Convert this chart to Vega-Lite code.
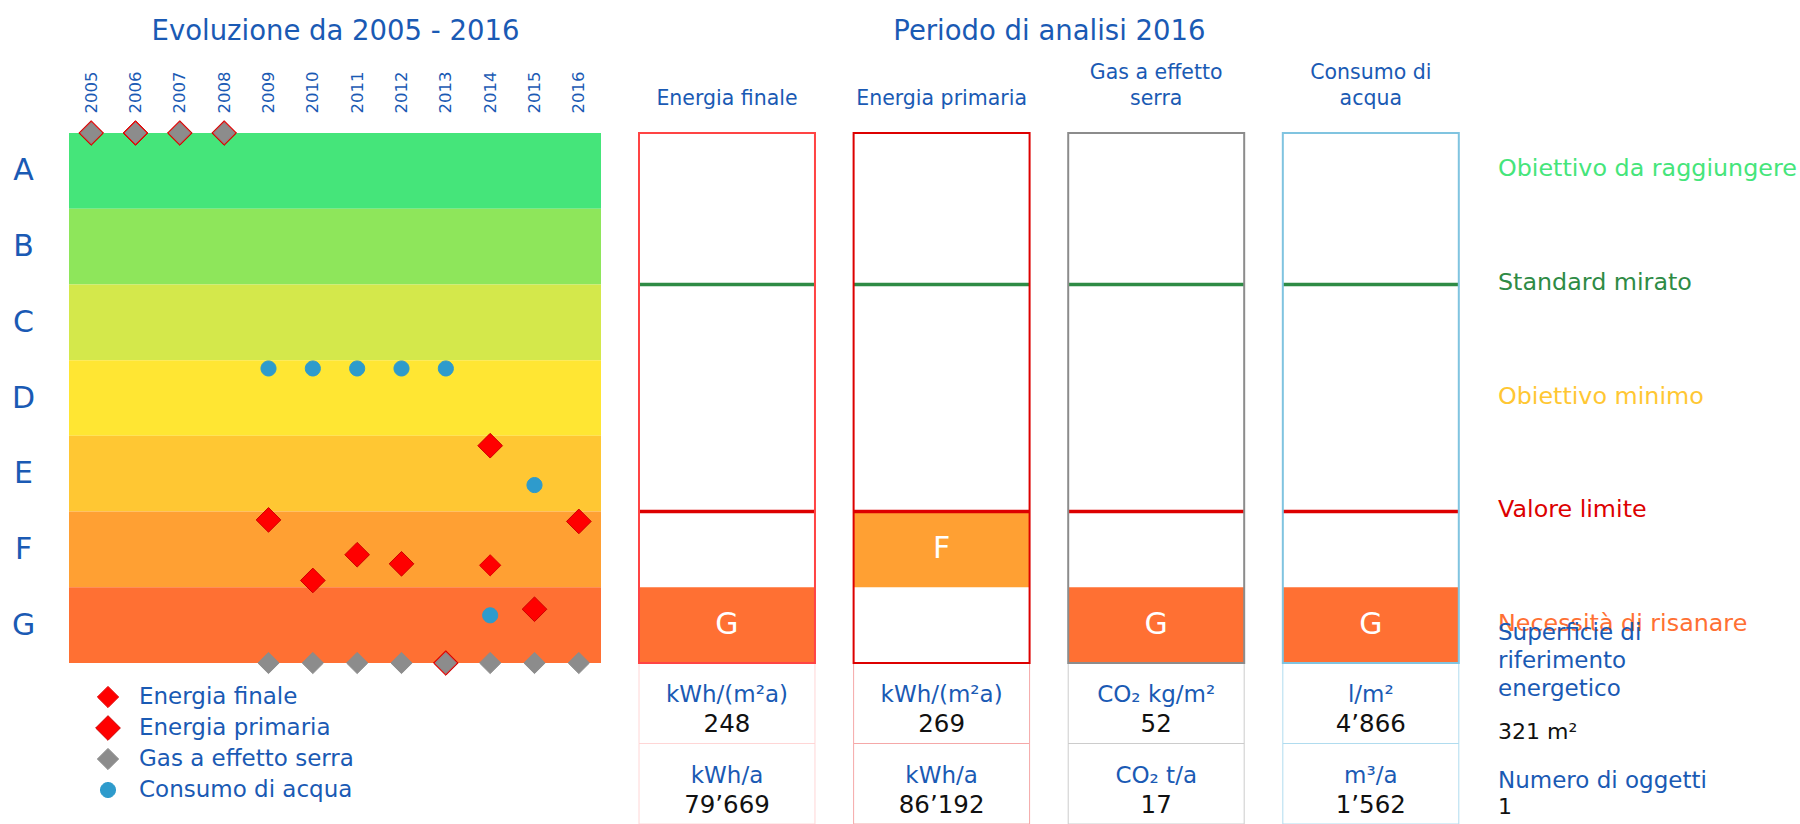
{
  "$schema": "https://vega.github.io/schema/vega-lite/v6.json",
  "width": 1731,
  "height": 691,
  "autosize": {"type": "none"},
  "padding": {"left": 69, "top": 133, "right": 0, "bottom": 0},
  "background": "white",
  "config": {
    "view": {"stroke": null},
    "locale": {"number": {"decimal": ".", "thousands": "’", "grouping": [3], "currency": ["", ""]}},
    "axis": {"grid": false, "domain": false, "ticks": false, "tickSize": 0},
    "legend": {
      "orient": "none", "legendX": 26, "legendY": 551, "title": null, "direction": "vertical",
      "labelFont": "DejaVu Sans", "labelFontSize": 23, "labelColor": "#1a5ab4", "labelOffset": 18,
      "rowPadding": 1, "gridAlign": "all", "padding": 0, "symbolStrokeWidth": 1, "labelLimit": 0,
      "symbolSize": 610
    }
  },
  "datasets": {
    "classi": [
      {"classe": "A", "da": 6, "a": 7},
      {"classe": "B", "da": 5, "a": 6},
      {"classe": "C", "da": 4, "a": 5},
      {"classe": "D", "da": 3, "a": 4},
      {"classe": "E", "da": 2, "a": 3},
      {"classe": "F", "da": 1, "a": 2},
      {"classe": "G", "da": 0, "a": 1}
    ],
    "andamento": [
      {"serie": "Energia primaria", "anno": 2005, "valore": 7},
      {"serie": "Energia primaria", "anno": 2006, "valore": 7},
      {"serie": "Energia primaria", "anno": 2007, "valore": 7},
      {"serie": "Energia primaria", "anno": 2008, "valore": 7},
      {"serie": "Energia primaria", "anno": 2009, "valore": 1.89},
      {"serie": "Energia primaria", "anno": 2010, "valore": 1.09},
      {"serie": "Energia primaria", "anno": 2011, "valore": 1.43},
      {"serie": "Energia primaria", "anno": 2012, "valore": 1.31},
      {"serie": "Energia primaria", "anno": 2013, "valore": 0},
      {"serie": "Energia primaria", "anno": 2014, "valore": 2.87},
      {"serie": "Energia primaria", "anno": 2015, "valore": 0.71},
      {"serie": "Energia primaria", "anno": 2016, "valore": 1.87},
      {"serie": "Energia finale", "anno": 2014, "valore": 1.29},
      {"serie": "Gas a effetto serra", "anno": 2005, "valore": 7},
      {"serie": "Gas a effetto serra", "anno": 2006, "valore": 7},
      {"serie": "Gas a effetto serra", "anno": 2007, "valore": 7},
      {"serie": "Gas a effetto serra", "anno": 2008, "valore": 7},
      {"serie": "Gas a effetto serra", "anno": 2009, "valore": 0},
      {"serie": "Gas a effetto serra", "anno": 2010, "valore": 0},
      {"serie": "Gas a effetto serra", "anno": 2011, "valore": 0},
      {"serie": "Gas a effetto serra", "anno": 2012, "valore": 0},
      {"serie": "Gas a effetto serra", "anno": 2013, "valore": 0},
      {"serie": "Gas a effetto serra", "anno": 2014, "valore": 0},
      {"serie": "Gas a effetto serra", "anno": 2015, "valore": 0},
      {"serie": "Gas a effetto serra", "anno": 2016, "valore": 0},
      {"serie": "Consumo di acqua", "anno": 2009, "valore": 3.89},
      {"serie": "Consumo di acqua", "anno": 2010, "valore": 3.89},
      {"serie": "Consumo di acqua", "anno": 2011, "valore": 3.89},
      {"serie": "Consumo di acqua", "anno": 2012, "valore": 3.89},
      {"serie": "Consumo di acqua", "anno": 2013, "valore": 3.89},
      {"serie": "Consumo di acqua", "anno": 2014, "valore": 0.63},
      {"serie": "Consumo di acqua", "anno": 2015, "valore": 2.35}
    ],
    "valutazione": [
      {"indicatore": "Energia finale", "classe": "G", "da": 0, "a": 1},
      {"indicatore": "Energia primaria", "classe": "F", "da": 1, "a": 2},
      {"indicatore": "Gas a effetto serra", "classe": "G", "da": 0, "a": 1},
      {"indicatore": "Consumo di acqua", "classe": "G", "da": 0, "a": 1}
    ],
    "tabella": [
      {"indicatore": "Energia finale", "riga": "specifico", "unita": "kWh/(m²a)", "valore": 248},
      {"indicatore": "Energia finale", "riga": "totale", "unita": "kWh/a", "valore": 79669},
      {"indicatore": "Energia primaria", "riga": "specifico", "unita": "kWh/(m²a)", "valore": 269},
      {"indicatore": "Energia primaria", "riga": "totale", "unita": "kWh/a", "valore": 86192},
      {"indicatore": "Gas a effetto serra", "riga": "specifico", "unita": "CO₂ kg/m²", "valore": 52},
      {"indicatore": "Gas a effetto serra", "riga": "totale", "unita": "CO₂ t/a", "valore": 17},
      {"indicatore": "Consumo di acqua", "riga": "specifico", "unita": "l/m²", "valore": 4866},
      {"indicatore": "Consumo di acqua", "riga": "totale", "unita": "m³/a", "valore": 1562}
    ],
    "soglie": [
      {"testo": "Obiettivo da raggiungere", "livello": 6.5},
      {"testo": "Standard mirato", "livello": 5},
      {"testo": "Obiettivo minimo", "livello": 3.5},
      {"testo": "Valore limite", "livello": 2},
      {"testo": "Necessità di risanare", "livello": 0.5}
    ],
    "edificio": [
      {"riga": "specifico", "titolo": "Superficie di\nriferimento\nenergetico", "valore": "321 m²"},
      {"riga": "totale", "titolo": "Numero di oggetti", "valore": "1"}
    ]
  },
  "layer": [
    {
      "layer": [
        {
          "data": {"name": "classi"},
          "mark": {"type": "rect"},
          "encoding": {
            "x": {
              "datum": 2004.5, "type": "quantitative",
              "scale": {"domain": [2004.5, 2016.5], "range": [0, 532], "nice": false, "zero": false},
              "axis": {
                "orient": "top", "title": "Evoluzione da 2005 - 2016",
                "values": [2005, 2006, 2007, 2008, 2009, 2010, 2011, 2012, 2013, 2014, 2015, 2016],
                "format": "d", "labelAngle": -90, "labelAlign": "left", "labelBaseline": "middle",
                "labelPadding": 20, "labelFont": "DejaVu Sans", "labelFontSize": 16.5, "labelColor": "#1a5ab4",
                "labelFlush": false, "labelOverlap": false, "labelBound": false,
                "titleFont": "DejaVu Sans", "titleFontSize": 27.5, "titleFontWeight": "normal", "titleColor": "#1a5ab4",
                "titlePadding": 25.5, "domain": false, "ticks": false, "tickSize": 0
              }
            },
            "x2": {"datum": 2016.5},
            "y": {
              "field": "da", "type": "quantitative",
              "scale": {"domain": [0, 7], "range": [530, 0], "nice": false, "zero": false},
              "axis": {
                "orient": "left", "title": null,
                "values": [0.5, 1.5, 2.5, 3.5, 4.5, 5.5, 6.5],
                "labelExpr": "['G','F','E','D','C','B','A'][floor(datum.value)]",
                "labelAlign": "center", "labelBaseline": "middle", "labelPadding": 46,
                "labelFont": "DejaVu Sans", "labelFontSize": 30, "labelColor": "#1a5ab4",
                "domain": false, "ticks": false, "tickSize": 0
              }
            },
            "y2": {"field": "a"},
            "fill": {
              "field": "classe", "type": "nominal",
              "scale": {"domain": ["A", "B", "C", "D", "E", "F", "G"], "range": ["#45e57a", "#8ee65b", "#d4e84b", "#ffe633", "#ffc733", "#ffa033", "#ff7033"]},
              "legend": null
            }
          }
        },
        {
          "data": {"name": "andamento"},
          "mark": {"type": "point", "filled": true, "opacity": 1, "strokeWidth": 1, "size": 610},
          "encoding": {
            "x": {"field": "anno", "type": "quantitative"},
            "y": {"field": "valore", "type": "quantitative"},
            "color": {
              "field": "serie", "type": "nominal",
              "scale": {"domain": ["Energia finale", "Energia primaria", "Gas a effetto serra", "Consumo di acqua"], "range": ["#ff0000", "#ff0000", "#8c8c8c", "#2e9bcc"]}
            },
            "shape": {
              "field": "serie", "type": "nominal",
              "scale": {
                "domain": ["Energia finale", "Energia primaria", "Gas a effetto serra", "Consumo di acqua"],
                "range": [
                  "M-0.86,0L0,-0.86L0.86,0L0,0.86Z",
                  "diamond",
                  "M-0.86,0L0,-0.86L0.86,0L0,0.86Z",
                  "M0.61,0A0.61,0.61,0,1,1,-0.61,0A0.61,0.61,0,1,1,0.61,0Z"
                ]
              }
            },
            "stroke": {
              "field": "serie", "type": "nominal",
              "scale": {"domain": ["Energia finale", "Energia primaria", "Gas a effetto serra", "Consumo di acqua"], "range": ["#e00000", "#cc0000", "#8c8c8c", "#2e9bcc"]}
            }
          }
        }
      ]
    },
    {
      "data": {"name": "tabella"},
      "encoding": {
        "x": {
          "field": "indicatore", "type": "nominal",
          "scale": {"domain": ["Energia finale", "Energia primaria", "Gas a effetto serra", "Consumo di acqua"], "range": [570, 1389.8], "paddingInner": 0.18, "paddingOuter": 0},
          "axis": null
        },
        "y": {
          "field": "riga", "type": "nominal",
          "scale": {"domain": ["specifico", "totale"], "range": [530, 691], "paddingInner": 0, "paddingOuter": 0},
          "axis": null
        }
      },
      "layer": [
        {
          "mark": {"type": "rect", "filled": false, "strokeWidth": 1},
          "encoding": {
            "stroke": {
              "field": "indicatore", "type": "nominal",
              "scale": {"domain": ["Energia finale", "Energia primaria", "Gas a effetto serra", "Consumo di acqua"], "range": ["#ffd6d6", "#f5a8a8", "#cccccc", "#b0dcef"]},
              "legend": null
            }
          }
        },
        {
          "mark": {"type": "text", "font": "DejaVu Sans", "fontSize": 23, "fill": "#1a5ab4", "baseline": "middle", "dy": -8},
          "encoding": {"text": {"field": "unita"}}
        },
        {
          "mark": {"type": "text", "font": "DejaVu Sans", "fontSize": 24.5, "fill": "#111111", "baseline": "middle", "dy": 22},
          "encoding": {"text": {"field": "valore", "type": "quantitative", "format": ","}}
        }
      ]
    },
    {
      "data": {"name": "valutazione"},
      "layer": [
        {
          "mark": {"type": "rect"},
          "encoding": {
            "x": {
              "field": "indicatore", "type": "nominal",
              "scale": {"domain": ["Energia finale", "Energia primaria", "Gas a effetto serra", "Consumo di acqua"], "range": [570, 1389.8], "paddingInner": 0.18, "paddingOuter": 0},
              "axis": {
                "orient": "top", "title": "Periodo di analisi 2016",
                "labelExpr": "datum.value == 'Gas a effetto serra' ? ['Gas a effetto', 'serra'] : datum.value == 'Consumo di acqua' ? ['Consumo di', 'acqua'] : ['', datum.value]",
                "labelAngle": 0, "labelAlign": "center", "labelBaseline": "bottom",
                "labelFont": "DejaVu Sans", "labelFontSize": 20.5, "labelColor": "#1a5ab4", "labelPadding": 51, "labelLineHeight": 26.4,
                "titleFont": "DejaVu Sans", "titleFontSize": 27.5, "titleFontWeight": "normal", "titleColor": "#1a5ab4", "titlePadding": 17,
                "domain": false, "ticks": false, "tickSize": 0
              }
            },
            "y": {
              "field": "da", "type": "quantitative",
              "scale": {"domain": [0, 7], "range": [530, 0], "nice": false, "zero": false},
              "axis": null
            },
            "y2": {"field": "a"},
            "fill": {
              "field": "classe", "type": "nominal",
              "scale": {"domain": ["A", "B", "C", "D", "E", "F", "G"], "range": ["#45e57a", "#8ee65b", "#d4e84b", "#ffe633", "#ffc733", "#ffa033", "#ff7033"]},
              "legend": null
            }
          }
        },
        {
          "mark": {"type": "text", "font": "DejaVu Sans", "fontSize": 30, "fill": "white", "baseline": "middle", "dy": -38},
          "encoding": {
            "x": {"field": "indicatore", "type": "nominal"},
            "y": {"field": "da", "type": "quantitative"},
            "text": {"field": "classe"}
          }
        },
        {
          "mark": {"type": "rect", "filled": false, "stroke": "#2e8b45", "strokeWidth": 3.5},
          "encoding": {
            "x": {"field": "indicatore", "type": "nominal"},
            "y": {"datum": 5, "type": "quantitative"},
            "y2": {"datum": 5}
          }
        },
        {
          "mark": {"type": "rect", "filled": false, "stroke": "#dd0000", "strokeWidth": 3.5},
          "encoding": {
            "x": {"field": "indicatore", "type": "nominal"},
            "y": {"datum": 2, "type": "quantitative"},
            "y2": {"datum": 2}
          }
        },
        {
          "mark": {"type": "rect", "filled": false, "strokeWidth": 2},
          "encoding": {
            "x": {"field": "indicatore", "type": "nominal"},
            "y": {"datum": 0, "type": "quantitative"},
            "y2": {"datum": 7},
            "stroke": {
              "field": "indicatore", "type": "nominal",
              "scale": {"domain": ["Energia finale", "Energia primaria", "Gas a effetto serra", "Consumo di acqua"], "range": ["#ff4444", "#dd0000", "#8c8c8c", "#80c4e0"]},
              "legend": null
            }
          }
        }
      ]
    },
    {
      "data": {"name": "soglie"},
      "mark": {"type": "text", "font": "DejaVu Sans", "fontSize": 23.8, "align": "left", "baseline": "middle", "dy": -1.5},
      "encoding": {
        "x": {"datum": 0, "type": "quantitative", "scale": {"domain": [0, 1], "range": [1429, 1731], "nice": false, "zero": false}, "axis": null},
        "y": {"field": "livello", "type": "quantitative", "scale": {"domain": [0, 7], "range": [530, 0], "nice": false, "zero": false}, "axis": null},
        "text": {"field": "testo"},
        "color": {
          "field": "testo", "type": "nominal",
          "scale": {"domain": ["Obiettivo da raggiungere", "Standard mirato", "Obiettivo minimo", "Valore limite", "Necessità di risanare"], "range": ["#45e57a", "#2e8b45", "#ffc733", "#dd0000", "#ff7033"]},
          "legend": null
        }
      }
    },
    {
      "data": {"name": "edificio"},
      "encoding": {
        "x": {"datum": 0, "type": "quantitative", "scale": {"domain": [0, 1], "range": [1429, 1731], "nice": false, "zero": false}, "axis": null},
        "y": {
          "field": "riga", "type": "nominal",
          "scale": {"domain": ["specifico", "totale"], "range": [530, 691], "paddingInner": 0, "paddingOuter": 0},
          "axis": null
        }
      },
      "layer": [
        {
          "transform": [{"filter": "datum.riga == 'specifico'"}],
          "mark": {"type": "text", "font": "DejaVu Sans", "fontSize": 23, "fill": "#1a5ab4", "align": "left", "baseline": "middle", "lineBreak": "\n", "lineHeight": 28, "dy": -70},
          "encoding": {"text": {"field": "titolo"}}
        },
        {
          "transform": [{"filter": "datum.riga == 'specifico'"}],
          "mark": {"type": "text", "font": "DejaVu Sans", "fontSize": 22, "fill": "#111111", "align": "left", "baseline": "middle", "dy": 29},
          "encoding": {"text": {"field": "valore"}}
        },
        {
          "transform": [{"filter": "datum.riga == 'totale'"}],
          "mark": {"type": "text", "font": "DejaVu Sans", "fontSize": 23, "fill": "#1a5ab4", "align": "left", "baseline": "middle", "dy": -3},
          "encoding": {"text": {"field": "titolo"}}
        },
        {
          "transform": [{"filter": "datum.riga == 'totale'"}],
          "mark": {"type": "text", "font": "DejaVu Sans", "fontSize": 22, "fill": "#111111", "align": "left", "baseline": "middle", "dy": 23},
          "encoding": {"text": {"field": "valore"}}
        }
      ]
    }
  ],
  "resolve": {
    "scale": {"x": "independent", "y": "independent", "color": "independent", "fill": "independent", "stroke": "independent", "size": "independent", "shape": "independent"},
    "axis": {"x": "independent", "y": "independent"}
  }
}
